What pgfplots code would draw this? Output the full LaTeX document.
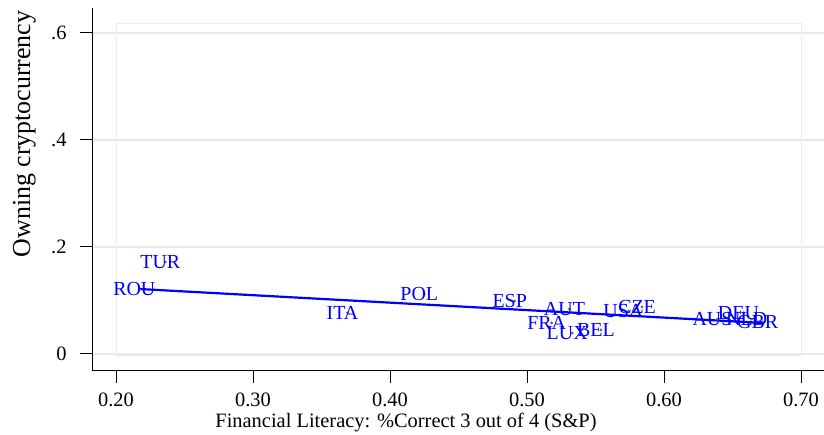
\documentclass[border=0pt]{standalone}
\usepackage{fontspec}
\setmainfont{Liberation Serif}
\usepackage{pgfplots}
\pgfplotsset{compat=1.18}
\definecolor{gridgray}{RGB}{232,232,232}
\definecolor{boxgray}{RGB}{236,236,236}
\definecolor{mkgray}{RGB}{100,100,100}
\pgfplotstableread{
x y lab
0.217 0.121 ROU
0.236 0.172 TUR
0.369 0.077 ITA
0.425 0.112 POL
0.491 0.099 ESP
0.518 0.058 FRA
0.531 0.084 AUT
0.533 0.039 LUX
0.554 0.045 BEL
0.574 0.080 USA
0.584 0.088 CZE
0.639 0.065 AUS
0.658 0.077 DEU
0.664 0.065 NLD
0.672 0.060 GBR
}\pts
\begin{document}
\begin{tikzpicture}
\useasboundingbox (0,0) rectangle (824bp,435bp);
\begin{axis}[
  at={(92bp,64bp)}, anchor=south west,
  scale only axis, width=732bp, height=363bp,
  xmin=0.18248, xmax=0.71679, ymin=-0.03178, ymax=0.6467,
  axis x line*=bottom, axis y line*=left,
  axis line style={line width=1bp, -, black},
  xtick={0.2,0.3,0.4,0.5,0.6,0.7},
  xticklabels={0.20,0.30,0.40,0.50,0.60,0.70},
  ytick={0,0.2,0.4,0.6},
  yticklabels={0,.2,.4,.6},
  tick style={black, line width=1bp},
  major tick length=12bp,
  tick align=outside,
  ymajorgrids, major grid style={gridgray, line width=1.5bp},
  ticklabel style={font=\fontsize{20.5}{24}\selectfont},
  xticklabel style={yshift=-6bp},
  yticklabel style={xshift=-10bp},
  clip=false,
]
\draw[boxgray, line width=0.8bp] (axis cs:0.2,-0.003) rectangle (axis cs:0.7,0.617);
\addplot[blue, line width=2.2bp] coordinates {(0.217,0.1215) (0.672,0.058)};
\addplot[only marks, mark=*, mark size=1.2bp, mkgray,
  nodes near coords, point meta=explicit symbolic,
  nodes near coords style={anchor=center, text=blue, xshift=-5bp, font=\fontsize{20}{24}\selectfont, inner sep=0pt}]
  table[x=x, y=y, meta=lab] {\pts};
\end{axis}
\node[anchor=base, font=\fontsize{20.5}{24}\selectfont] at (406bp,8bp) {Financial Literacy: \%Correct 3 out of 4 (S\&P)};
\node[anchor=base, rotate=90, font=\fontsize{26}{30}\selectfont] at (30bp,301bp) {Owning cryptocurrency};
\end{tikzpicture}
\end{document}
